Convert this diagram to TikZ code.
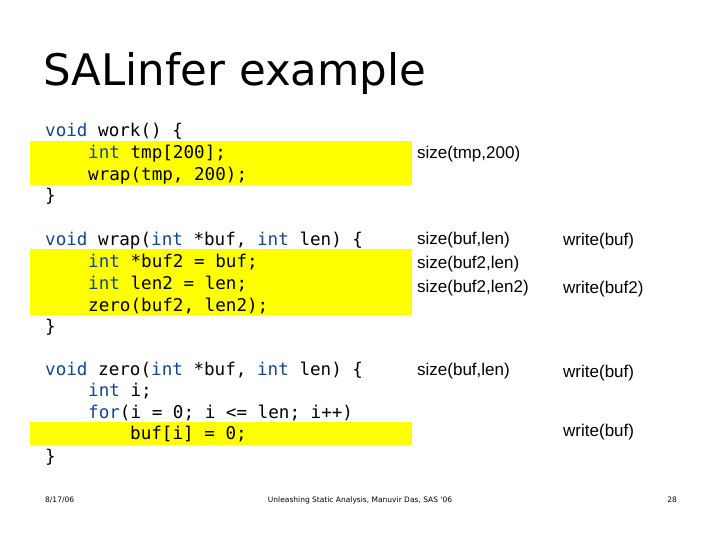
\documentclass[tikz,border=0pt]{standalone}
\usepackage{fontspec}
\setmainfont{Liberation Sans}
\newfontfamily\codefont{DejaVu Sans Mono}
\newfontfamily\titlefont{DejaVu Sans}
\definecolor{kw}{RGB}{20,70,140}
\definecolor{hl}{RGB}{255,255,0}
\begin{document}
\begin{tikzpicture}[x=1pt,y=-1pt,
  code/.style={anchor=base west,inner sep=0pt,font=\codefont\fontsize{17.6}{20}\selectfont},
  lab/.style={anchor=west,inner sep=0pt,font=\fontsize{17}{19}\selectfont},
  foot/.style={inner sep=0pt,font=\titlefont\fontsize{7.5}{9}\selectfont}]
\useasboundingbox (0,0) rectangle (720,540);
\fill[white] (0,0) rectangle (720,540);
\fill[hl] (30,141) rectangle (412,185);
\fill[hl] (30,249) rectangle (412,315);
\fill[hl] (30,422) rectangle (412,445);
\node[anchor=base west,inner sep=0pt,font=\titlefont\fontsize{43.5}{46}\selectfont] (title) at (43,86) {SALinfer example};
\def\k#1{\textcolor{kw}{#1}}
\node[code] (l1) at (45,137) {\k{void} work() \{};
\node[code] (l2) at (88,159) {\k{int} tmp[200];};
\node[code] (l3) at (88,181) {wrap(tmp, 200);};
\node[code] (l4) at (45,202) {\}};
\node[code] (m1) at (45,245) {\k{void} wrap(\k{int} *buf, \k{int} len) \{};
\node[code] (m2) at (88,267) {\k{int} *buf2 = buf;};
\node[code] (m3) at (88,289) {\k{int} len2 = len;};
\node[code] (m4) at (88,311) {zero(buf2, len2);};
\node[code] (m5) at (45,332) {\}};
\node[code] (n1) at (45,375) {\k{void} zero(\k{int} *buf, \k{int} len) \{};
\node[code] (n2) at (88,396) {\k{int} i;};
\node[code] (n3) at (88,418) {\k{for}(i = 0; i <= len; i++)};
\node[code] (n4) at (130,439) {buf[i] = 0;};
\node[code] (n5) at (45,462) {\}};
\node[lab] (s1) at (417,154) {size(tmp,200)};
\node[lab] (s2) at (417,240) {size(buf,len)};
\node[lab] (s3) at (417,264) {size(buf2,len)};
\node[lab] (s4) at (417,288) {size(buf2,len2)};
\node[lab] (s5) at (417,371) {size(buf,len)};
\node[lab] (w1) at (563,241) {write(buf)};
\node[lab] (w2) at (563,289) {write(buf2)};
\node[lab] (w3) at (563,373) {write(buf)};
\node[lab] (w4) at (563,432) {write(buf)};
\node[foot,anchor=west] (d) at (45,500) {8/17/06};
\node[foot] (c) at (360,500) {Unleashing Static Analysis, Manuvir Das, SAS '06};
\node[foot,anchor=east] (p) at (677,500) {28};
\end{tikzpicture}
\end{document}
